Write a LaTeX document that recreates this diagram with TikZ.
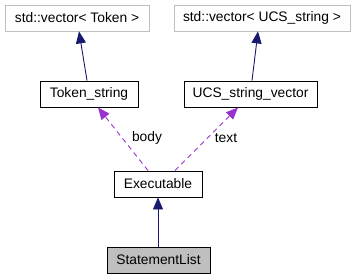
\documentclass[tikz,border=0pt]{standalone}
\usepackage{fontspec}
\setmainfont{Liberation Sans}
\usetikzlibrary{arrows.meta,calc}
\definecolor{edgegray}{HTML}{BFBFBF}
\definecolor{inherit}{HTML}{191970}
\definecolor{usage}{HTML}{9A32CD}
\begin{document}
\begin{tikzpicture}[x=1pt,y=-1pt,
  cls/.style={draw=black,line width=0.9pt,fill=white,inner sep=0pt,minimum height=26pt,
    font=\fontsize{13.8}{15}\selectfont},
  extcls/.style={cls,draw=edgegray,line width=0.8pt},
  curcls/.style={cls,fill=edgegray},
  inh/.style={draw=inherit,line width=0.9pt,-{Triangle[length=12pt,width=10pt]}},
  use/.style={draw=usage,line width=0.9pt,dash pattern=on 5pt off 4pt,-{Triangle[length=12pt,width=10pt]}},
  lbl/.style={font=\fontsize{13.8}{15}\selectfont,inner sep=0pt}]
\useasboundingbox (0,0) rectangle (355,279);
\node[extcls,minimum width=144pt] (vtok) at (77,18) {std::vector< Token >};
\node[extcls,minimum width=176pt] (vucs) at (262,18) {std::vector< UCS\_string >};
\node[cls,minimum width=98pt] (tok) at (89,94) {Token\_string};
\node[cls,minimum width=133pt] (ucs) at (250.5,94) {UCS\_string\_vector};
\node[cls,minimum width=88pt] (exe) at (158,184) {Executable};
\node[curcls,minimum width=103pt] (stl) at (158.5,260) {StatementList};
% inheritance
\draw[inh] ($(tok.north)+(-2,0)$) -- ($(vtok.south)+(2,0)$);
\draw[inh] ($(ucs.north)+(1.5,0)$) -- ($(vucs.south)+(-4,0)$);
\draw[inh] (stl.north -| exe.north) -- (exe.south);
% usage
\draw[use] ($(exe.north)+(-10,0)$) -- ($(tok.south)+(9,0)$);
\draw[use] ($(exe.north)+(17,0)$) -- ($(ucs.south)+(-12.5,0)$);
\node[lbl] (lbody) at (147,138) {body};
\node[lbl] (ltext) at (226,138) {text};
\end{tikzpicture}
\end{document}
